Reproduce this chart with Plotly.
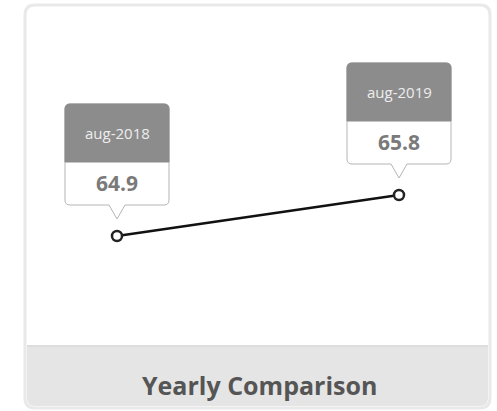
import plotly.graph_objects as go

categories = ["aug-2018", "aug-2019"]
values = [64.9, 65.8]
title_text = "Yearly Comparison"

W, H = 497, 411
xs = list(range(len(categories)))

fig = go.Figure()

# --- card (pixel offsets anchored at paper top-left; y positive up) ---
def rounded_rect(x0, y0, x1, y1, r, top=True, bottom=True):
    Y0, Y1 = -y0, -y1
    p = []
    if top:
        p.append(f"M{x0+r},{Y0} L{x1-r},{Y0} Q{x1},{Y0} {x1},{Y0-r}")
    else:
        p.append(f"M{x0},{Y0} L{x1},{Y0}")
    if bottom:
        p.append(f"L{x1},{Y1+r} Q{x1},{Y1} {x1-r},{Y1} L{x0+r},{Y1} Q{x0},{Y1} {x0},{Y1+r}")
    else:
        p.append(f"L{x1},{Y1} L{x0},{Y1}")
    if top:
        p.append(f"L{x0},{Y0-r} Q{x0},{Y0} {x0+r},{Y0} Z")
    else:
        p.append("Z")
    return " ".join(p)

card_common = dict(xref="paper", yref="paper", xsizemode="pixel", ysizemode="pixel",
                   xanchor=0, yanchor=1, layer="below")
fig.add_shape(type="path", path=rounded_rect(25, 5, 490, 408, 10),
              fillcolor="white", line=dict(color="#e9e9e9", width=3), **card_common)
fig.add_shape(type="path", path=rounded_rect(27, 346, 488, 406, 8, top=False),
              fillcolor="#e5e5e5", line=dict(width=0), **card_common)
fig.add_shape(type="line", x0=27, x1=488, y0=-346, y1=-346,
              line=dict(color="#dddddd", width=2), **card_common)

fig.add_annotation(x=259 / W, y=1 - 385 / H, xref="paper", yref="paper",
                   xanchor="center", yanchor="middle",
                   text=f"<b>{title_text}</b>", showarrow=False,
                   font=dict(family="Open Sans", size=25, color="#555555"))

# --- tooltip-like labels anchored at each point ---
bw, r = 52, 5
bot, mid, topy, tip = 31, 74, 132, 17
for x, cat, v in zip(xs, categories, values):
    common = dict(xref="x", yref="y", xsizemode="pixel", ysizemode="pixel",
                  xanchor=x, yanchor=v)
    body = (f"M{-bw+r},{topy} L{bw-r},{topy} Q{bw},{topy} {bw},{topy-r} "
            f"L{bw},{bot+r} Q{bw},{bot} {bw-r},{bot} L8,{bot} L0,{tip} L-8,{bot} "
            f"L{-bw+r},{bot} Q{-bw},{bot} {-bw},{bot+r} L{-bw},{topy-r} "
            f"Q{-bw},{topy} {-bw+r},{topy} Z")
    fig.add_shape(type="path", path=body, fillcolor="white",
                  line=dict(color="#b5b5b5", width=1), **common)
    head = (f"M{-bw+r},{topy} L{bw-r},{topy} Q{bw},{topy} {bw},{topy-r} "
            f"L{bw},{mid} L{-bw},{mid} L{-bw},{topy-r} Q{-bw},{topy} {-bw+r},{topy} Z")
    fig.add_shape(type="path", path=head, fillcolor="#8c8c8c",
                  line=dict(color="#8c8c8c", width=1), **common)
    fig.add_annotation(x=x, y=v, xref="x", yref="y", yshift=103, showarrow=False,
                       text=cat, font=dict(family="Open Sans", size=15, color="#eeeeee"))
    fig.add_annotation(x=x, y=v, xref="x", yref="y", yshift=53, showarrow=False,
                       text=f"<b>{v}</b>", font=dict(family="Open Sans", size=21, color="#7a7a7a"))

fig.add_trace(go.Scatter(
    x=xs, y=values, mode="lines+markers",
    line=dict(color="#111111", width=2.5),
    marker=dict(size=10, color="white", line=dict(color="#222222", width=2.5)),
    hoverinfo="skip", showlegend=False))

# axis ranges chosen so points land at the reference pixel positions
px0, px1 = 117, 399
py0, py1 = 236, 195
sx = (px1 - px0) / (xs[1] - xs[0])
sy = (py0 - py1) / (values[1] - values[0])
xr = [xs[0] - px0 / sx, xs[0] + (W - px0) / sx]
yr = [values[0] - (H - py0) / sy, values[0] + py0 / sy]

fig.update_xaxes(range=xr, visible=False, fixedrange=True)
fig.update_yaxes(range=yr, visible=False, fixedrange=True)
fig.update_layout(width=W, height=H, margin=dict(l=0, r=0, t=0, b=0),
                  paper_bgcolor="white", plot_bgcolor="rgba(0,0,0,0)",
                  showlegend=False)

fig.write_html("out.html")
